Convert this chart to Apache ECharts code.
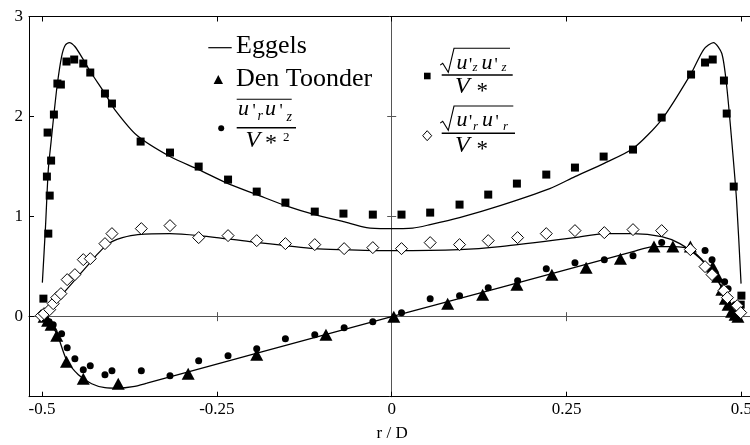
<!DOCTYPE html>
<html><head><meta charset="utf-8">
<script src="https://cdn.jsdelivr.net/npm/echarts@6/dist/echarts.min.js"></script>
<style>html,body{margin:0;padding:0;background:#fff}#c{width:750px;height:445px}</style>
</head><body><div id="c"></div>
<script>
// ---- tick values / labels ----
const xTicks = [-0.5, -0.25, 0, 0.25, 0.5];
const xTickLabels = ['-0.5', '-0.25', '0', '0.25', '0.5'];
const yTicks = [0, 1, 2, 3];
const yTickLabels = ['0', '1', '2', '3'];
const centerXTicks = [-0.25, 0.25];
const centerYTicks = [1, 2];

// ---- Eggels (lines) ----
const uzEggelsX = [-0.4995,-0.495,-0.491,-0.487,-0.483,-0.478,-0.472,-0.467,-0.461,-0.453,-0.441,-0.431,-0.41,-0.396,-0.364,-0.317,-0.276,-0.234,-0.193,-0.152,-0.11,-0.069,-0.036,-0.007,0.03,0.055,0.097,0.155,0.226,0.262,0.303,0.345,0.386,0.428,0.446,0.46,0.472,0.479,0.486,0.493,0.4995];
const uzEggelsY = [0.34,0.9,1.47,1.75,2.02,2.33,2.6,2.71,2.74,2.7,2.57,2.45,2.23,2.07,1.81,1.6,1.47,1.33,1.22,1.11,1.02,0.95,0.89,0.88,0.885,0.92,0.99,1.11,1.28,1.4,1.53,1.68,1.97,2.43,2.67,2.74,2.63,2.3,1.77,1.17,0.33];
const urEggelsX = [-0.5,-0.49,-0.48,-0.47,-0.46,-0.45,-0.44,-0.43,-0.42,-0.41,-0.4,-0.385,-0.363,-0.317,-0.276,-0.203,-0.11,-0.068,0.002,0.097,0.155,0.262,0.304,0.345,0.386,0.412,0.441,0.465,0.488,0.5];
const urEggelsY = [0,0.07,0.15,0.23,0.31,0.39,0.47,0.55,0.63,0.7,0.75,0.79,0.82,0.83,0.81,0.75,0.68,0.67,0.66,0.67,0.7,0.79,0.83,0.83,0.8,0.73,0.58,0.37,0.1,0];
const uruzEggelsX = [-0.5,-0.494,-0.485,-0.477,-0.465,-0.448,-0.429,-0.41,-0.391,-0.37,-0.35,-0.3,-0.203,0,0.155,0.25,0.345,0.374,0.403,0.427,0.45,0.469,0.488,0.5];
const uruzEggelsY = [0,-0.03,-0.1,-0.2,-0.43,-0.58,-0.67,-0.71,-0.715,-0.7,-0.665,-0.57,-0.385,0,0.29,0.47,0.65,0.7,0.7,0.67,0.52,0.33,0.07,0];

// ---- measured: sqrt(u'z u'z)/V* (squares) ----
const uzX = [-0.498,-0.491,-0.489,-0.493,-0.487,-0.492,-0.483,-0.478,-0.473,-0.465,-0.454,-0.441,-0.431,-0.41,-0.4,-0.359,-0.317,-0.276,-0.234,-0.193,-0.152,-0.11,-0.069,-0.027,0.014,0.055,0.097,0.138,0.179,0.221,0.262,0.303,0.345,0.386,0.428,0.448,0.459,0.475,0.479,0.489,0.5,0.499];
const uzY = [0.18,0.83,1.21,1.4,1.56,1.84,2.02,2.33,2.32,2.55,2.57,2.53,2.44,2.23,2.13,1.75,1.64,1.5,1.37,1.25,1.14,1.05,1.03,1.02,1.02,1.04,1.12,1.22,1.33,1.42,1.49,1.6,1.67,1.99,2.42,2.54,2.57,2.36,2.03,1.3,0.21,0.12];
// ---- measured: sqrt(u'r u'r)/V* (diamonds) ----
const urX = [-0.501,-0.497,-0.489,-0.484,-0.479,-0.473,-0.464,-0.453,-0.441,-0.431,-0.41,-0.4,-0.358,-0.317,-0.276,-0.234,-0.193,-0.152,-0.11,-0.068,-0.027,0.014,0.055,0.097,0.138,0.18,0.221,0.262,0.304,0.345,0.386,0.427,0.448,0.458,0.475,0.48,0.494,0.499];
const urY = [0.01,0.03,0.07,0.13,0.19,0.23,0.37,0.42,0.57,0.58,0.73,0.83,0.88,0.91,0.79,0.81,0.76,0.73,0.72,0.68,0.69,0.68,0.74,0.72,0.76,0.79,0.83,0.86,0.84,0.87,0.86,0.67,0.5,0.42,0.26,0.19,0.11,0.04];
// ---- measured: u'r u'z / V*^2 (circles) ----
const uruzX = [-0.499,-0.495,-0.49,-0.484,-0.472,-0.464,-0.453,-0.441,-0.431,-0.41,-0.4,-0.358,-0.317,-0.276,-0.234,-0.193,-0.152,-0.11,-0.068,-0.027,0.014,0.055,0.097,0.138,0.18,0.221,0.262,0.304,0.345,0.386,0.448,0.458,0.476,0.481,0.491,0.496];
const uruzY = [0.02,-0.02,-0.05,-0.08,-0.17,-0.31,-0.42,-0.53,-0.49,-0.58,-0.54,-0.54,-0.59,-0.44,-0.39,-0.32,-0.22,-0.18,-0.11,-0.05,0.04,0.18,0.21,0.29,0.36,0.48,0.54,0.57,0.61,0.74,0.66,0.57,0.35,0.28,0.12,0.05];
// ---- Den Toonder (triangles) ----
const toonderX = [-0.497,-0.492,-0.487,-0.479,-0.465,-0.441,-0.391,-0.291,-0.193,-0.094,0.003,0.08,0.13,0.179,0.229,0.278,0.327,0.375,0.402,0.427,0.459,0.466,0.472,0.477,0.481,0.486,0.491,0.495];
const toonderY = [0,-0.04,-0.08,-0.19,-0.45,-0.62,-0.67,-0.57,-0.38,-0.18,0,0.13,0.22,0.32,0.42,0.49,0.58,0.7,0.7,0.7,0.5,0.4,0.27,0.18,0.12,0.05,0.02,0];

const zip = (xs, ys) => xs.map((x, i) => [x, ys[i]]);
const SERIF = '"Liberation Serif", "Times New Roman", serif';
const XMIN = -0.5186, XMAX = 0.52, YMIN = -0.8, YMAX = 3;

function lineSeries(name, xs, ys) {
  return { name, type: 'line', data: zip(xs, ys), showSymbol: false, symbol: 'none', smooth: 0.25,
    lineStyle: { color: '#000', width: 1.25 }, z: 2, clip: true };
}
function scatter(name, xs, ys, symbol, size, fill, stroke) {
  return { name, type: 'scatter', data: zip(xs, ys), symbol, symbolSize: size,
    itemStyle: { color: fill, borderColor: stroke, borderWidth: stroke ? 1 : 0, opacity: 1 }, z: 3 };
}

// ---- legend helpers (decoration only) ----
function tok(s, x, base, size, style) {
  return { type: 'text', x: x, y: base - 0.3375 * size, silent: true, z: 100,
    style: { text: s, fill: '#000', fontFamily: SERIF, fontSize: size, fontStyle: style || 'normal',
      align: 'left', verticalAlign: 'middle' } };
}
function hline(x1, x2, y, w) {
  return { type: 'line', silent: true, z: 100, shape: { x1, y1: y, x2, y2: y }, style: { stroke: '#000', lineWidth: w || 1.2 } };
}
function radical(x0, yMid, yTop, xEnd) {
  return { type: 'polyline', silent: true, z: 100,
    shape: { points: [[x0 - 2.5, yMid + 1.8], [x0, yMid], [x0 + 5.6, yMid + 9], [x0 + 11.3, yTop], [xEnd, yTop]] },
    style: { stroke: '#000', lineWidth: 1.1, fill: null } };
}

const graphic = [
  // Eggels
  hline(208.3, 231.7, 47.7, 1.2),
  tok('Eggels', 236, 55.2, 26),
  // Den Toonder
  { type: 'polygon', silent: true, z: 100, shape: { points: [[213.6, 84], [223, 84], [218.3, 75]] }, style: { fill: '#000' } },
  tok('Den Toonder', 236, 87.5, 26),
  // circle legend: u'r u'z / V*^2
  { type: 'circle', silent: true, z: 100, shape: { cx: 221.2, cy: 128.3, r: 3 }, style: { fill: '#000' } },
  hline(236.7, 291.7, 99.3, 1.1),
  tok('u', 238, 116.7, 22, 'italic'),
  tok("'", 252.5, 118.5, 18),
  tok('r', 257.5, 121.5, 14, 'italic'),
  tok('u', 265, 116.7, 22, 'italic'),
  tok("'", 279.5, 118.5, 18),
  tok('z', 286.5, 122, 14, 'italic'),
  hline(236.7, 296, 127.7, 1.6),
  tok('V', 245.5, 148.3, 24, 'italic'),
  tok('*', 265, 152, 24),
  tok('2', 283, 141.7, 13),
  // square legend: sqrt(u'z u'z)/V*
  { type: 'rect', silent: true, z: 100, shape: { x: 424, y: 72.7, width: 6.6, height: 6.6 }, style: { fill: '#000' } },
  radical(442.7, 63.3, 48.3, 510),
  tok('u', 456.5, 71, 22, 'italic'),
  tok("'", 469, 72.5, 18),
  tok('z', 472.5, 72, 13, 'italic'),
  tok('u', 481.5, 71, 22, 'italic'),
  tok("'", 494.5, 72.5, 18),
  tok('z', 501.5, 72, 13, 'italic'),
  hline(441.7, 512.7, 75, 1.6),
  tok('V', 455, 95, 24, 'italic'),
  tok('*', 476.5, 99.5, 23),
  // diamond legend: sqrt(u'r u'r)/V*
  { type: 'polygon', silent: true, z: 100, shape: { points: [[427.2, 130.7], [431.7, 135.7], [427.2, 140.7], [422.7, 135.7]] }, style: { fill: '#fff', stroke: '#000', lineWidth: 1 } },
  radical(442.7, 121.3, 106, 513.3),
  tok('u', 456.5, 127.7, 22, 'italic'),
  tok("'", 469, 129, 18),
  tok('r', 473, 130.5, 13, 'italic'),
  tok('u', 482, 127.7, 22, 'italic'),
  tok("'", 495.5, 129, 18),
  tok('r', 503, 130.5, 13, 'italic'),
  hline(441.7, 515, 133.3, 1.6),
  tok('V', 455, 153.3, 24, 'italic'),
  tok('*', 476.5, 158, 23)
];

const lblFmt = (v) => { const i = xTicks.findIndex(t => Math.abs(t - v) < 1e-9); return i >= 0 ? xTickLabels[i] : ''; };
const ylblFmt = (v) => { const i = yTicks.findIndex(t => Math.abs(t - v) < 1e-9); return i >= 0 ? yTickLabels[i] : ''; };

const frameAxisX = (pos, showLabel) => ({
  type: 'value', min: XMIN, max: XMAX, position: pos,
  axisLine: { onZero: false, lineStyle: { color: '#000', width: 1 } },
  axisTick: { inside: true, length: 5, customValues: xTicks, lineStyle: { color: '#000', width: 1 } },
  axisLabel: showLabel ? { customValues: xTicks, formatter: lblFmt, margin: 4, color: '#000', fontFamily: SERIF, fontSize: 17, hideOverlap: false } : { show: false },
  splitLine: { show: false }
});
const centerAxisX = (inside) => ({
  type: 'value', min: XMIN, max: XMAX, position: 'bottom',
  axisLine: { onZero: true, onZeroAxisIndex: 0, lineStyle: { color: '#555', width: 1 } },
  axisTick: { inside: inside, length: 4.5, customValues: centerXTicks, lineStyle: { color: '#555', width: 1 } },
  axisLabel: { show: false }, splitLine: { show: false }
});
const frameAxisY = (pos, showLabel) => ({
  type: 'value', min: YMIN, max: YMAX, position: pos,
  axisLine: { onZero: false, lineStyle: { color: '#000', width: 1 } },
  axisTick: { inside: true, length: 5, customValues: yTicks, lineStyle: { color: '#000', width: 1 } },
  axisLabel: showLabel ? { customValues: yTicks, formatter: ylblFmt, margin: 6, color: '#000', fontFamily: SERIF, fontSize: 17 } : { show: false },
  splitLine: { show: false }
});
const centerAxisY = (inside) => ({
  type: 'value', min: YMIN, max: YMAX, position: 'left',
  axisLine: { onZero: true, onZeroAxisIndex: 0, lineStyle: { color: '#555', width: 1 } },
  axisTick: { inside: inside, length: 4.5, customValues: centerYTicks, lineStyle: { color: '#555', width: 1 } },
  axisLabel: { show: false }, splitLine: { show: false }
});

const xb = frameAxisX('bottom', true);
xb.name = 'r / D'; xb.nameLocation = 'middle'; xb.nameGap = 28;
xb.nameTextStyle = { color: '#000', fontFamily: SERIF, fontSize: 17 };

const option = {
  animation: false,
  backgroundColor: '#fff',
  textStyle: { fontFamily: SERIF },
  grid: { left: 29, width: 726.4, top: 16.5, height: 380.2, containLabel: false, outerBoundsMode: 'none' },
  xAxis: [xb, frameAxisX('top', false), centerAxisX(true), centerAxisX(false)],
  yAxis: [frameAxisY('left', true), frameAxisY('right', false), centerAxisY(true), centerAxisY(false)],
  series: [
    lineSeries('Eggels uz', uzEggelsX, uzEggelsY),
    lineSeries('Eggels ur', urEggelsX, urEggelsY),
    lineSeries('Eggels uruz', uruzEggelsX, uruzEggelsY),
    scatter('sqrt(uz uz)/V*', uzX, uzY, 'rect', 8, '#000', null),
    scatter('u r u z / V*^2', uruzX, uruzY, 'circle', 7, '#000', null),
    scatter('Den Toonder', toonderX, toonderY, 'triangle', [13, 12], '#000', null),
    scatter('sqrt(ur ur)/V*', urX, urY, 'diamond', [12, 12], '#fff', '#000')
  ],
  graphic: graphic
};
const chart = echarts.init(document.getElementById('c'), null, { renderer: 'canvas' });
chart.setOption(option);
</script></body></html>
